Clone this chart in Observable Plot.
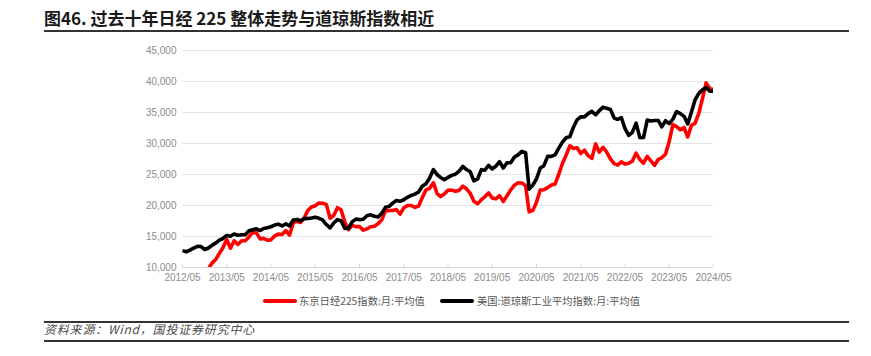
<!DOCTYPE html>
<html>
<head>
<meta charset="utf-8">
<script src="https://cdn.jsdelivr.net/npm/d3@7"></script>
<script src="https://cdn.jsdelivr.net/npm/@observablehq/plot@0.6"></script>
<style>
  html, body { margin: 0; padding: 0; background: #fff; }
  #wrap { position: relative; width: 871px; height: 356px; overflow: hidden; font-family: "Noto Sans CJK SC", "Liberation Sans", sans-serif; }
  #title { position: absolute; left: 44px; top: 8px; font-size: 17px; line-height: 20px; font-weight: 700; color: #1a1a1a; white-space: nowrap; }
  .hr { position: absolute; left: 44px; width: 805px; background: #333; }
  #chart { position: absolute; left: 0; top: 40px; }
  .leg { position: absolute; font-size: 10.3px; line-height: 12px; color: #595959; white-space: nowrap; }
  .sw { position: absolute; height: 4px; border-radius: 2px; }
  #cap { position: absolute; left: 44px; top: 321px; font-size: 12px; line-height: 16px; font-style: italic; letter-spacing: 0.8px; color: #4d4d4d; white-space: nowrap; }
</style>
</head>
<body>
<div id="wrap">
  <div id="title">图46. 过去十年日经 225 整体走势与道琼斯指数相近</div>
  <div class="hr" style="top:30px;height:2px;"></div>
  <div id="chart"></div>
  <div class="sw" style="left:263px;top:299px;width:34px;background:#ff0000;"></div>
  <div class="leg" style="left:299px;top:295px;">东京日经225指数:月:平均值</div>
  <div class="sw" style="left:440px;top:299px;width:34px;background:#000;"></div>
  <div class="leg" style="left:477px;top:295px;">美国:道琼斯工业平均指数:月:平均值</div>
  <div class="hr" style="top:321px;height:2px;"></div>
  <div id="cap">资料来源：Wind，国投证券研究中心</div>
  <div class="hr" style="top:340px;height:1.5px;"></div>
</div>
<script>
const startMonth = "2012-05";
const seriesNames = ["东京日经225指数:月:平均值", "美国:道琼斯工业平均指数:月:平均值"];
const xTickLabels = ["2012/05","2013/05","2014/05","2015/05","2016/05","2017/05","2018/05","2019/05","2020/05","2021/05","2022/05","2023/05","2024/05"];
const yTicks = [10000, 15000, 20000, 25000, 30000, 35000, 40000, 45000];

// 2012/05 - 2024/05 monthly averages
const nikkei = [
  8840, 8640, 8760, 8950, 8950, 8800, 9050, 9800,
  10750, 11340, 12250, 13230, 14530, 13110, 14310, 13720, 14320, 14330, 14930, 15660,
  15580, 14620, 14700, 14420, 14460, 15090, 15380, 15330, 15950, 15210, 17180, 17460,
  17270, 18050, 19200, 19770, 19970, 20400, 20370, 20180, 17950, 18380, 19640, 19320,
  17320, 16090, 16790, 16590, 16620, 16020, 16240, 16570, 16650, 17040, 17690, 19140,
  19190, 19190, 19340, 18620, 19590, 20000, 20000, 19700, 19920, 21270, 22530, 22770,
  23680, 21900, 21440, 21860, 22470, 22480, 22300, 22440, 23120, 22690, 21960, 20690,
  20270, 20950, 21400, 22030, 21220, 21070, 21590, 20630, 21590, 22500, 23280, 23660,
  23640, 23180, 18980, 19210, 20540, 22490, 22530, 22880, 23310, 23430, 25040, 26770,
  28150, 29630, 29210, 29320, 28390, 28920, 28040, 27600, 29940, 28590, 29390, 28610,
  27530, 26750, 26520, 27040, 26680, 26820, 27150, 28460, 27410, 26830, 27910, 27210,
  26480, 27450, 27690, 28280, 30320, 33060, 32730, 32210, 32580, 31050, 32920, 33270,
  34880, 37340, 39770, 38850, 38700
];
const dow = [
  12720, 12540, 12810, 13130, 13420, 13380, 12900, 13140,
  13610, 13970, 14420, 14680, 15170, 15030, 15390, 15200, 15270, 15300, 15920, 16090,
  16240, 15960, 16300, 16400, 16570, 16840, 16990, 16700, 17060, 16700, 17650, 17750,
  17530, 17880, 17900, 17980, 18120, 17930, 17690, 16930, 16380, 17180, 17720, 17550,
  16310, 16340, 17350, 17810, 17720, 17790, 18350, 18490, 18260, 18140, 18740, 19700,
  19860, 20420, 20790, 20680, 20930, 21320, 21620, 21830, 22170, 23090, 23520, 24420,
  25800, 24960, 24530, 24160, 24530, 24860, 25040, 25560, 26290, 25800, 25440, 23960,
  24280, 25780, 25690, 26480, 25890, 26350, 27080, 26050, 26890, 26910, 27810, 28170,
  28720, 28520, 22640, 23300, 24270, 26040, 26430, 27920, 27920, 28170, 29250, 30220,
  30930, 31130, 32580, 33820, 34300, 34300, 34820, 35190, 34630, 35270, 35870, 35670,
  35500, 34100, 33890, 34190, 32450, 31300, 31800, 33280, 30940, 30960, 33790, 33640,
  33710, 33700, 32690, 33670, 33210, 33930, 35150, 34820, 34380, 33150, 35060, 37060,
  38090, 38680, 39000, 38450, 38450
];

const parse = d3.utcParse("%Y/%m");
const t0 = d3.utcParse("%Y-%m")(startMonth);
const months = nikkei.map((_, i) => d3.utcMonth.offset(t0, i));
const rows = [];
nikkei.forEach((v, i) => rows.push({date: months[i], value: v, s: seriesNames[0]}));
dow.forEach((v, i) => rows.push({date: months[i], value: v, s: seriesNames[1]}));
const xTicks = xTickLabels.map(parse);

const chart = Plot.plot({
  width: 871,
  height: 250,
  marginTop: 10,
  marginBottom: 23,
  marginLeft: 182,
  marginRight: 158,
  style: {fontFamily: "'Liberation Sans', Arial, sans-serif", fontSize: "10px", background: "transparent"},
  x: {type: "utc", domain: [xTicks[0], xTicks[xTicks.length - 1]]},
  y: {domain: [10000, 45000]},
  color: {domain: seriesNames, range: ["#ff0000", "#000000"]},
  marks: [
    Plot.gridY(yTicks.slice(1), {stroke: "#e3e3e3", strokeOpacity: 1, strokeWidth: 1}),
    Plot.ruleY([10000], {stroke: "#d9d9d9", strokeWidth: 1}),
    Plot.ruleX(xTicks, {y1: 10000, y2: 10500, stroke: "#d9d9d9"}),
    Plot.axisX(xTicks, {tickSize: 0, tickPadding: 6, tickFormat: d3.utcFormat("%Y/%m"), fill: "#8c8c8c", label: null}),
    Plot.axisY(yTicks, {tickSize: 0, tickPadding: 6, tickFormat: d3.format(","), fill: "#8c8c8c", label: null}),
    Plot.line(rows, {x: "date", y: "value", z: "s", stroke: "s", strokeWidth: 3.6, clip: true, strokeLinejoin: "round", strokeLinecap: "butt"})
  ]
});
document.getElementById("chart").appendChild(chart);
</script>
</body>
</html>
